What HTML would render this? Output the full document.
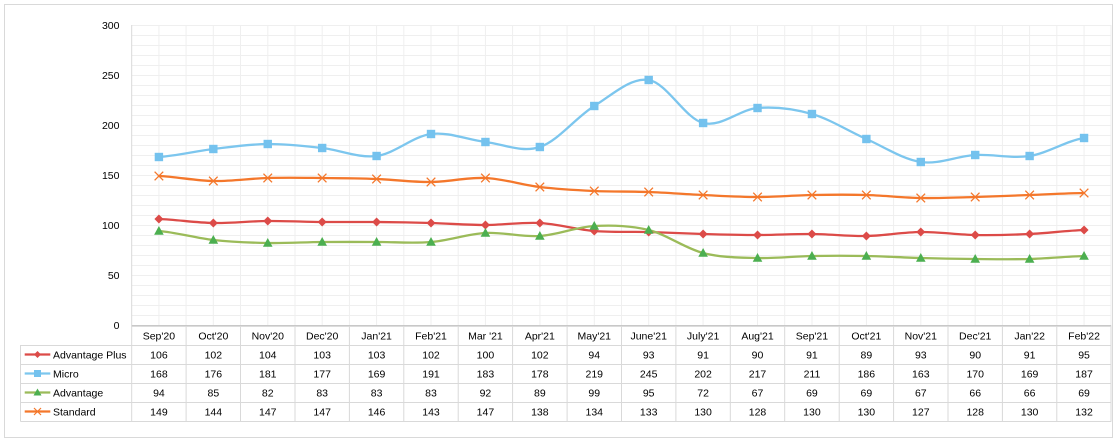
<!DOCTYPE html>
<html><head><meta charset="utf-8"><style>
html,body{margin:0;padding:0;background:#fff;}
svg{display:block;font-family:"Liberation Sans",Arial,sans-serif;}
text{font-size:10.5px;fill:#000;}
</style></head><body>
<svg width="1120" height="444" viewBox="0 0 1120 444" xmlns="http://www.w3.org/2000/svg">
<defs>
<path id="dia" d="M0,-4.5 L4.5,0 L0,4.5 L-4.5,0Z" fill="#DC4B48"/>
<rect id="sq" x="-4.2" y="-4.2" width="8.4" height="8.4" fill="#74C2EE"/>
<path id="tri" d="M0,-5 L4.8,3.8 L-4.8,3.8Z" fill="#4CAF50"/>
<path id="xx" d="M-4.3,-4.3L4.3,4.3M-4.3,4.3L4.3,-4.3" stroke="#F4772B" stroke-width="1.3" fill="none"/>
<path id="dia2" d="M0,-3.5 L3.5,0 L0,3.5 L-3.5,0Z" fill="#DC4B48"/>
<rect id="sq2" x="-3.5" y="-3.5" width="7" height="7" fill="#74C2EE"/>
<path id="tri2" d="M0,-4 L4,3 L-4,3Z" fill="#4CAF50"/>
<path id="xx2" d="M-3.5,-3.5L3.5,3.5M-3.5,3.5L3.5,-3.5" stroke="#F4772B" stroke-width="1.2" fill="none"/>
</defs>
<rect x="4.5" y="4.5" width="1108" height="433" fill="#fff" stroke="#d9d9d9" stroke-width="1"/>

<!-- horizontal gridlines -->
<g stroke="#efefef" stroke-width="1">
<path d="M132,25.5H1111M132,35.5H1111M132,45.5H1111M132,55.5H1111M132,65.5H1111M132,75.5H1111M132,85.5H1111M132,95.5H1111M132,105.5H1111M132,115.5H1111M132,125.5H1111M132,135.5H1111M132,145.5H1111M132,155.5H1111M132,165.5H1111M132,175.5H1111M132,185.5H1111M132,195.5H1111M132,205.5H1111M132,215.5H1111M132,225.5H1111M132,235.5H1111M132,245.5H1111M132,255.5H1111M132,265.5H1111M132,275.5H1111M132,285.5H1111M132,295.5H1111M132,305.5H1111M132,315.5H1111"/>
<!-- vertical gridlines -->
<path d="M158.9,25V325M186.1,25V325M213.3,25V325M240.5,25V325M267.8,25V325M295,25V325M322.2,25V325M349.4,25V325M376.6,25V325M403.8,25V325M431,25V325M458.2,25V325M485.4,25V325M512.6,25V325M539.9,25V325M567.1,25V325M594.3,25V325M621.5,25V325M648.7,25V325M675.9,25V325M703.1,25V325M730.3,25V325M757.5,25V325M784.7,25V325M812,25V325M839.2,25V325M866.4,25V325M893.6,25V325M920.8,25V325M948,25V325M975.2,25V325M1002.4,25V325M1029.6,25V325M1056.8,25V325M1084.1,25V325M1111,25V325"/>
</g>
<!-- axis -->
<path d="M131.7,25V421" stroke="#d9d9d9" stroke-width="1"/>
<path d="M131.7,325.8H1111.3" stroke="#c8c8c8" stroke-width="1.6"/>

<!-- y labels -->
<g text-anchor="end">
<text x="119.5" y="29">300</text>
<text x="119.5" y="79">250</text>
<text x="119.5" y="129">200</text>
<text x="119.5" y="179">150</text>
<text x="119.5" y="229">100</text>
<text x="119.5" y="279">50</text>
<text x="119.5" y="329">0</text>
</g>

<!-- series lines -->
<g transform="matrix(54.42,0,0,-1,158.91,325)" fill="none" stroke-linejoin="round" stroke-linecap="round">
<path vector-effect="non-scaling-stroke" stroke="#DC4B48" stroke-width="2.3" d="M0,106 C0.333,105.333 0.667,102.333 1,102 C1.333,101.667 1.667,103.833 2,104 C2.333,104.167 2.667,103.167 3,103 C3.333,102.833 3.667,103.167 4,103 C4.333,102.833 4.667,102.5 5,102 C5.333,101.5 5.667,100 6,100 C6.333,100 6.667,103 7,102 C7.333,101 7.667,95.5 8,94 C8.333,92.5 8.667,93.5 9,93 C9.333,92.5 9.667,91.5 10,91 C10.333,90.5 10.667,90 11,90 C11.333,90 11.667,91.167 12,91 C12.333,90.833 12.667,88.667 13,89 C13.333,89.333 13.667,92.833 14,93 C14.333,93.167 14.667,90.333 15,90 C15.333,89.667 15.667,90.167 16,91 C16.333,91.833 16.667,94.333 17,95"/>
<path vector-effect="non-scaling-stroke" stroke="#7CC6EE" stroke-width="2.3" d="M0,168 C0.333,169.333 0.667,173.833 1,176 C1.333,178.167 1.667,180.833 2,181 C2.333,181.167 2.667,179 3,177 C3.333,175 3.667,166.667 4,169 C4.333,171.333 4.667,188.667 5,191 C5.333,193.333 5.667,185.167 6,183 C6.333,180.833 6.667,172 7,178 C7.333,184 7.667,207.833 8,219 C8.333,230.167 8.667,247.833 9,245 C9.333,242.167 9.667,206.667 10,202 C10.333,197.333 10.667,215.5 11,217 C11.333,218.5 11.667,216.167 12,211 C12.333,205.833 12.667,194 13,186 C13.333,178 13.667,165.667 14,163 C14.333,160.333 14.667,169 15,170 C15.333,171 15.667,166.167 16,169 C16.333,171.833 16.667,184 17,187"/>
<path vector-effect="non-scaling-stroke" stroke="#9BBB59" stroke-width="2.3" d="M0,94 C0.333,92.5 0.667,87 1,85 C1.333,83 1.667,82.333 2,82 C2.333,81.667 2.667,82.833 3,83 C3.333,83.167 3.667,83 4,83 C4.333,83 4.667,81.5 5,83 C5.333,84.5 5.667,91 6,92 C6.333,93 6.667,87.833 7,89 C7.333,90.167 7.667,98 8,99 C8.333,100 8.667,99.5 9,95 C9.333,90.5 9.667,76.667 10,72 C10.333,67.333 10.667,67.5 11,67 C11.333,66.5 11.667,68.667 12,69 C12.333,69.333 12.667,69.333 13,69 C13.333,68.667 13.667,67.5 14,67 C14.333,66.5 14.667,66.167 15,66 C15.333,65.833 15.667,65.5 16,66 C16.333,66.5 16.667,68.5 17,69"/>
<path vector-effect="non-scaling-stroke" stroke="#F4772B" stroke-width="2.3" d="M0,149 C0.333,148.167 0.667,144.333 1,144 C1.333,143.667 1.667,146.5 2,147 C2.333,147.5 2.667,147.167 3,147 C3.333,146.833 3.667,146.667 4,146 C4.333,145.333 4.667,142.833 5,143 C5.333,143.167 5.667,147.833 6,147 C6.333,146.167 6.667,140.167 7,138 C7.333,135.833 7.667,134.833 8,134 C8.333,133.167 8.667,133.667 9,133 C9.333,132.333 9.667,130.833 10,130 C10.333,129.167 10.667,128 11,128 C11.333,128 11.667,129.667 12,130 C12.333,130.333 12.667,130.5 13,130 C13.333,129.5 13.667,127.333 14,127 C14.333,126.667 14.667,127.5 15,128 C15.333,128.5 15.667,129.333 16,130 C16.333,130.667 16.667,131.667 17,132"/>
</g>

<!-- markers -->
<g>
<use href="#dia" x="158.91" y="219"/><use href="#dia" x="213.33" y="223"/><use href="#dia" x="267.75" y="221"/><use href="#dia" x="322.17" y="222"/><use href="#dia" x="376.59" y="222"/><use href="#dia" x="431.01" y="223"/><use href="#dia" x="485.43" y="225"/><use href="#dia" x="539.85" y="223"/><use href="#dia" x="594.27" y="231"/><use href="#dia" x="648.69" y="232"/><use href="#dia" x="703.11" y="234"/><use href="#dia" x="757.53" y="235"/><use href="#dia" x="811.95" y="234"/><use href="#dia" x="866.37" y="236"/><use href="#dia" x="920.79" y="232"/><use href="#dia" x="975.21" y="235"/><use href="#dia" x="1029.63" y="234"/><use href="#dia" x="1084.05" y="230"/>
<use href="#sq" x="158.91" y="157"/><use href="#sq" x="213.33" y="149"/><use href="#sq" x="267.75" y="144"/><use href="#sq" x="322.17" y="148"/><use href="#sq" x="376.59" y="156"/><use href="#sq" x="431.01" y="134"/><use href="#sq" x="485.43" y="142"/><use href="#sq" x="539.85" y="147"/><use href="#sq" x="594.27" y="106"/><use href="#sq" x="648.69" y="80"/><use href="#sq" x="703.11" y="123"/><use href="#sq" x="757.53" y="108"/><use href="#sq" x="811.95" y="114"/><use href="#sq" x="866.37" y="139"/><use href="#sq" x="920.79" y="162"/><use href="#sq" x="975.21" y="155"/><use href="#sq" x="1029.63" y="156"/><use href="#sq" x="1084.05" y="138"/>
<use href="#tri" x="158.91" y="231"/><use href="#tri" x="213.33" y="240"/><use href="#tri" x="267.75" y="243"/><use href="#tri" x="322.17" y="242"/><use href="#tri" x="376.59" y="242"/><use href="#tri" x="431.01" y="242"/><use href="#tri" x="485.43" y="233"/><use href="#tri" x="539.85" y="236"/><use href="#tri" x="594.27" y="226"/><use href="#tri" x="648.69" y="230"/><use href="#tri" x="703.11" y="253"/><use href="#tri" x="757.53" y="258"/><use href="#tri" x="811.95" y="256"/><use href="#tri" x="866.37" y="256"/><use href="#tri" x="920.79" y="258"/><use href="#tri" x="975.21" y="259"/><use href="#tri" x="1029.63" y="259"/><use href="#tri" x="1084.05" y="256"/>
<use href="#xx" x="158.91" y="176"/><use href="#xx" x="213.33" y="181"/><use href="#xx" x="267.75" y="178"/><use href="#xx" x="322.17" y="178"/><use href="#xx" x="376.59" y="179"/><use href="#xx" x="431.01" y="182"/><use href="#xx" x="485.43" y="178"/><use href="#xx" x="539.85" y="187"/><use href="#xx" x="594.27" y="191"/><use href="#xx" x="648.69" y="192"/><use href="#xx" x="703.11" y="195"/><use href="#xx" x="757.53" y="197"/><use href="#xx" x="811.95" y="195"/><use href="#xx" x="866.37" y="195"/><use href="#xx" x="920.79" y="198"/><use href="#xx" x="975.21" y="197"/><use href="#xx" x="1029.63" y="195"/><use href="#xx" x="1084.05" y="193"/>
</g>

<!-- data table grid -->
<g stroke="#d9d9d9" stroke-width="1" fill="none">
<path d="M20.5,345.5H1111.3M20.5,364.5H1111.3M20.5,383.5H1111.3M20.5,402.5H1111.3M20.5,421.5H1111.3"/>
<path d="M20.5,345V421.5"/>
<path d="M186.1,326V421.5M240.5,326V421.5M295,326V421.5M349.4,326V421.5M403.8,326V421.5M458.2,326V421.5M512.6,326V421.5M567.1,326V421.5M621.5,326V421.5M675.9,326V421.5M730.3,326V421.5M784.7,326V421.5M839.2,326V421.5M893.6,326V421.5M948,326V421.5M1002.4,326V421.5M1056.8,326V421.5M1111,326V421.5"/>
</g>

<!-- header labels -->
<g text-anchor="middle">
<text x="158.91" y="339.5">Sep'20</text><text x="213.33" y="339.5">Oct'20</text><text x="267.75" y="339.5">Nov'20</text><text x="322.17" y="339.5">Dec'20</text><text x="376.59" y="339.5">Jan'21</text><text x="431.01" y="339.5">Feb'21</text><text x="485.43" y="339.5">Mar '21</text><text x="539.85" y="339.5">Apr'21</text><text x="594.27" y="339.5">May'21</text><text x="648.69" y="339.5">June'21</text><text x="703.11" y="339.5">July'21</text><text x="757.53" y="339.5">Aug'21</text><text x="811.95" y="339.5">Sep'21</text><text x="866.37" y="339.5">Oct'21</text><text x="920.79" y="339.5">Nov'21</text><text x="975.21" y="339.5">Dec'21</text><text x="1029.63" y="339.5">Jan'22</text><text x="1084.05" y="339.5">Feb'22</text>

<text x="158.91" y="358.5">106</text><text x="213.33" y="358.5">102</text><text x="267.75" y="358.5">104</text><text x="322.17" y="358.5">103</text><text x="376.59" y="358.5">103</text><text x="431.01" y="358.5">102</text><text x="485.43" y="358.5">100</text><text x="539.85" y="358.5">102</text><text x="594.27" y="358.5">94</text><text x="648.69" y="358.5">93</text><text x="703.11" y="358.5">91</text><text x="757.53" y="358.5">90</text><text x="811.95" y="358.5">91</text><text x="866.37" y="358.5">89</text><text x="920.79" y="358.5">93</text><text x="975.21" y="358.5">90</text><text x="1029.63" y="358.5">91</text><text x="1084.05" y="358.5">95</text>

<text x="158.91" y="377.5">168</text><text x="213.33" y="377.5">176</text><text x="267.75" y="377.5">181</text><text x="322.17" y="377.5">177</text><text x="376.59" y="377.5">169</text><text x="431.01" y="377.5">191</text><text x="485.43" y="377.5">183</text><text x="539.85" y="377.5">178</text><text x="594.27" y="377.5">219</text><text x="648.69" y="377.5">245</text><text x="703.11" y="377.5">202</text><text x="757.53" y="377.5">217</text><text x="811.95" y="377.5">211</text><text x="866.37" y="377.5">186</text><text x="920.79" y="377.5">163</text><text x="975.21" y="377.5">170</text><text x="1029.63" y="377.5">169</text><text x="1084.05" y="377.5">187</text>

<text x="158.91" y="396.5">94</text><text x="213.33" y="396.5">85</text><text x="267.75" y="396.5">82</text><text x="322.17" y="396.5">83</text><text x="376.59" y="396.5">83</text><text x="431.01" y="396.5">83</text><text x="485.43" y="396.5">92</text><text x="539.85" y="396.5">89</text><text x="594.27" y="396.5">99</text><text x="648.69" y="396.5">95</text><text x="703.11" y="396.5">72</text><text x="757.53" y="396.5">67</text><text x="811.95" y="396.5">69</text><text x="866.37" y="396.5">69</text><text x="920.79" y="396.5">67</text><text x="975.21" y="396.5">66</text><text x="1029.63" y="396.5">66</text><text x="1084.05" y="396.5">69</text>

<text x="158.91" y="415.5">149</text><text x="213.33" y="415.5">144</text><text x="267.75" y="415.5">147</text><text x="322.17" y="415.5">147</text><text x="376.59" y="415.5">146</text><text x="431.01" y="415.5">143</text><text x="485.43" y="415.5">147</text><text x="539.85" y="415.5">138</text><text x="594.27" y="415.5">134</text><text x="648.69" y="415.5">133</text><text x="703.11" y="415.5">130</text><text x="757.53" y="415.5">128</text><text x="811.95" y="415.5">130</text><text x="866.37" y="415.5">130</text><text x="920.79" y="415.5">127</text><text x="975.21" y="415.5">128</text><text x="1029.63" y="415.5">130</text><text x="1084.05" y="415.5">132</text>
</g>

<!-- legend keys -->
<g stroke-width="2.3">
<path d="M24.7,354.5H50.3" stroke="#DC4B48"/>
<path d="M24.7,373.5H50.3" stroke="#7CC6EE"/>
<path d="M24.7,392.5H50.3" stroke="#9BBB59"/>
<path d="M24.7,411.5H50.3" stroke="#F4772B"/>
</g>
<use href="#dia2" x="37.5" y="354.5"/>
<use href="#sq2" x="37.5" y="373.5"/>
<use href="#tri2" x="37.5" y="392.5"/>
<use href="#xx2" x="37.5" y="411.5"/>
<text x="53" y="358.5">Advantage Plus</text>
<text x="53" y="377.5">Micro</text>
<text x="53" y="396.5">Advantage</text>
<text x="53" y="415.5">Standard</text>
</svg>
</body></html>
